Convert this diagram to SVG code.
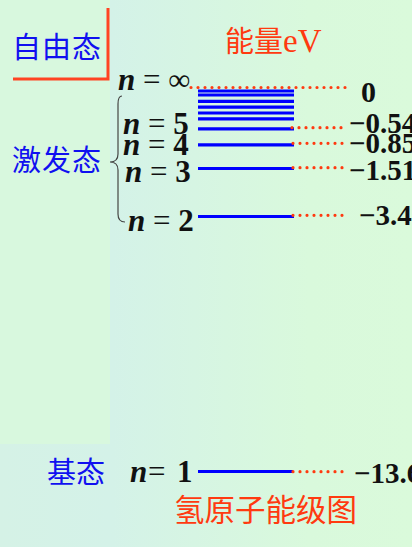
<svg xmlns="http://www.w3.org/2000/svg" width="412" height="547" viewBox="0 0 412 547">
<defs>
<linearGradient id="bg" x1="0" y1="0" x2="412" y2="0" gradientUnits="userSpaceOnUse">
<stop offset="0" stop-color="#d5f2e6"/>
<stop offset="0.27" stop-color="#d4f2e8"/>
<stop offset="0.75" stop-color="#d9f9dc"/>
<stop offset="1" stop-color="#dafadb"/>
</linearGradient>
<style>
.cjk{font-family:"Noto Sans CJK SC","Noto Sans",sans-serif;font-size:29px}
.blue{fill:#1010f0}
.red{fill:#ff3a10}
.nl{font-family:"Liberation Serif","Times New Roman",serif;font-size:31px;fill:#111}
.n{font-style:italic;font-weight:bold}
.d{font-weight:bold}
.val{font-family:"Liberation Serif","Times New Roman",serif;font-size:29px;font-weight:bold;fill:#111}
.bar{stroke:#0000ff;stroke-width:3.2}
.dot{stroke:#ff3a10;stroke-width:3.2;stroke-linecap:round;stroke-dasharray:0 7;fill:none}
</style>
</defs>
<rect width="412" height="547" fill="url(#bg)"/>
<rect x="0" y="0" width="110" height="444" fill="#d8f8de"/>

<g id="free-state">
<path d="M108 8 V79 H13" fill="none" stroke="#ff4422" stroke-width="3"/>
<text class="cjk blue" x="12" y="58" letter-spacing="1">自由态</text>
</g>

<g id="energy-title">
<text class="red" x="225" y="52" style="font-size:29px"><tspan style='font-family:"Noto Sans CJK SC",sans-serif'>能量</tspan><tspan style='font-family:"Liberation Serif",serif;font-size:33px'>eV</tspan></text>
</g>

<g id="excited-state">
<text class="cjk blue" x="12" y="171" letter-spacing="1">激发态</text>
<path d="M122 96 Q118 96 118 104 V154 Q118 162 110 162 Q118 162 118 170 V214 Q118 222 125 222" fill="none" stroke="#444" stroke-width="1.2"/>
</g>

<g id="ground-state">
<text class="cjk blue" x="47" y="483">基态</text>
</g>

<g id="level-inf">
<text class="nl" x="118" y="90"><tspan class="n">n</tspan> = ∞</text>
<line class="bar" x1="198" y1="91" x2="294" y2="91"/>
<line class="bar" x1="198" y1="95" x2="294" y2="95"/>
<line class="bar" x1="198" y1="101.3" x2="294" y2="101.3"/>
<line class="bar" x1="198" y1="107.2" x2="294" y2="107.2"/>
<line class="bar" x1="198" y1="113" x2="294" y2="113"/>
<line class="bar" x1="198" y1="118.8" x2="294" y2="118.8"/>
<text class="val" x="361" y="102" style="font-size:30px">0</text>
</g>

<g id="level-5">
<text class="nl" x="123" y="134"><tspan class="n">n</tspan> = <tspan class="d">5</tspan></text>
<line class="bar" x1="198" y1="128.8" x2="294" y2="128.8"/>
<text class="val" x="349" y="133">−0.54</text>
</g>

<g id="level-4">
<text class="nl" x="123" y="155"><tspan class="n">n</tspan> = <tspan class="d">4</tspan></text>
<line class="bar" x1="198" y1="144.8" x2="294" y2="144.8"/>
<text class="val" x="349" y="153">−0.85</text>
</g>

<g id="level-3">
<text class="nl" x="125" y="182"><tspan class="n">n</tspan> = <tspan class="d">3</tspan></text>
<line class="bar" x1="198" y1="168.5" x2="294" y2="168.5"/>
<text class="val" x="349" y="180">−1.51</text>
</g>

<g id="level-2">
<text class="nl" x="128" y="231"><tspan class="n">n</tspan> = <tspan class="d">2</tspan></text>
<line class="bar" x1="198" y1="216.5" x2="294" y2="216.5"/>
<text class="val" x="359" y="225">−3.4</text>
</g>

<g id="level-1">
<text class="nl" x="130" y="482"><tspan class="n">n</tspan><tspan x="148">=</tspan><tspan class="d" x="177">1</tspan></text>
<line class="bar" x1="198" y1="471.5" x2="293" y2="471.5"/>
<text class="val" x="354" y="483">−13.6</text>
</g>

<g id="connectors">
<line class="dot" x1="191" y1="87.5" x2="350" y2="87.5"/>
<line class="dot" x1="292" y1="127.7" x2="347" y2="127.7"/>
<line class="dot" x1="293" y1="143.3" x2="347" y2="143.3"/>
<line class="dot" x1="293" y1="167.7" x2="347" y2="167.7"/>
<line class="dot" x1="293" y1="215.3" x2="347" y2="215.3"/>
<line class="dot" x1="293" y1="471.7" x2="348" y2="471.7"/>
</g>

<g id="caption">
<text class="cjk red" x="174" y="521" style="font-size:30.5px">氢原子能级图</text>
</g>
</svg>
